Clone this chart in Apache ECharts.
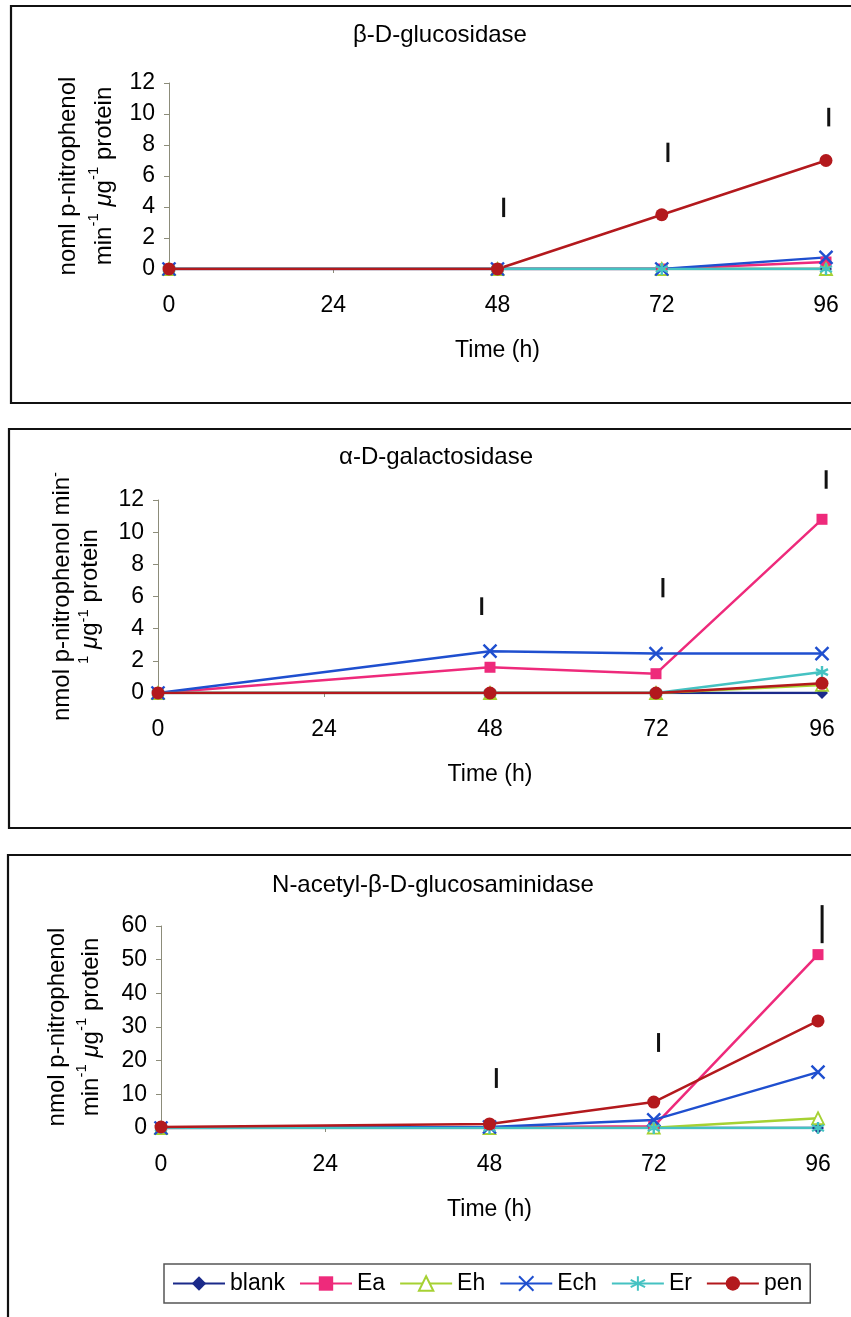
<!DOCTYPE html>
<html>
<head>
<meta charset="utf-8">
<title>Enzyme activity</title>
<script src="https://cdn.jsdelivr.net/npm/echarts@6/dist/echarts.min.js"></script>
<style>
  html, body { margin: 0; padding: 0; background: #fff; }
  #main { width: 851px; height: 1317px; }
</style>
</head>
<body>
<div id="main"></div>
<script>
// sampling times (h)
var hours = [0, 48, 72, 96];
var xTicks = [0, 24, 48, 72, 96];
var names = ["blank", "Ea", "Eh", "Ech", "Er", "pen"];

// beta-D-glucosidase
var glucBlank = [0, 0, 0, 0];
var glucEa = [0, 0, 0, 0.45];
var glucEh = [0, 0, 0, 0];
var glucEch = [0, 0, 0, 0.75];
var glucEr = [0, 0, 0, 0];
var glucPen = [0, 0, 3.5, 7.0];
var glucBarX = [48.9, 72.9, 96.4];
var glucBarLow = [3.35, 6.9, 9.2];
var glucBarHigh = [4.6, 8.15, 10.4];

// alpha-D-galactosidase
var galBlank = [0, 0, 0, 0];
var galEa = [0, 1.6, 1.2, 10.8];
var galEh = [0, 0, 0, 0.5];
var galEch = [0, 2.6, 2.45, 2.45];
var galEr = [0, 0, 0, 1.3];
var galPen = [0, 0, 0, 0.6];
var galBarX = [46.8, 73.0, 96.6];
var galBarLow = [4.85, 5.95, 12.7];
var galBarHigh = [5.95, 7.15, 13.85];

// N-acetyl-beta-D-glucosaminidase
var nagBlank = [0, 0, 0, 0];
var nagEa = [0, 0.2, 0.5, 51.5];
var nagEh = [0, 0, 0.1, 2.9];
var nagEch = [0, 0.3, 2.4, 16.6];
var nagEr = [0, 0, 0, 0];
var nagPen = [0.3, 1.2, 7.7, 31.8];
var nagBarX = [49.0, 72.7, 96.6];
var nagBarLow = [11.9, 22.6, 54.9];
var nagBarHigh = [17.8, 28.2, 66.2];

var FONT = "'Liberation Sans', Arial, sans-serif";

// look of each treatment
var looks = {
  blank: { color: "#1b2a8a", symbol: "diamond", size: 12 },
  Ea: { color: "#ee2a7b", symbol: "rect", size: 11 },
  Eh: { color: "#a6d133", symbol: "triangle", size: 12, hollow: true },
  Ech: { color: "#1f4fcf", symbol: "path://M0,0L10,10M10,0L0,10", size: 13, stroke: true },
  Er: { color: "#45c2c2", symbol: "path://M5,0L5,10M0,2.5L10,7.5M0,7.5L10,2.5", size: 12, stroke: true },
  pen: { color: "#b3191d", symbol: "circle", size: 13 }
};

function pairs(ys) {
  return hours.map(function (h, i) { return [h, ys[i]]; });
}

function lineSeries(name, ys, idx) {
  var lk = looks[name];
  var itemStyle = { color: lk.color };
  if (lk.hollow) itemStyle = { color: "#fff", borderColor: lk.color, borderWidth: 1.8 };
  if (lk.stroke) itemStyle = { color: lk.color, borderColor: lk.color, borderWidth: 2.4 };
  return {
    name: name,
    type: "line",
    xAxisIndex: idx,
    yAxisIndex: idx,
    data: pairs(ys),
    symbol: lk.symbol,
    symbolSize: lk.size,
    showAllSymbol: true,
    lineStyle: { color: lk.color, width: 2.5 },
    itemStyle: itemStyle,
    emphasis: { disabled: true },
    animation: false
  };
}

// the little vertical bars above each time point
function barSeries(xs, lo, hi, idx) {
  return {
    name: "lsd",
    type: "custom",
    xAxisIndex: idx,
    yAxisIndex: idx,
    clip: false,
    animation: false,
    encode: { x: 0, y: [1, 2] },
    data: xs.map(function (x, i) { return [x, lo[i], hi[i]]; }),
    renderItem: function (params, api) {
      var a = api.coord([api.value(0), api.value(1)]);
      var b = api.coord([api.value(0), api.value(2)]);
      return {
        type: "line",
        shape: { x1: a[0], y1: a[1], x2: b[0], y2: b[1] },
        style: { stroke: "#111", lineWidth: 3 }
      };
    }
  };
}

var grids = [
  { left: 169, top: 83, width: 657, height: 186 },
  { left: 158, top: 500, width: 664, height: 193 },
  { left: 161, top: 926, width: 657, height: 202 }
];

var yMax = [12, 12, 60];
var yStep = [2, 2, 10];
var yGap = [47, 54, 53];
var yLineH = [36, 28, 34];
var yNames = [
  "{t|noml p-nitrophenol}\n{t|min}{s|-1}{t| }{m|\u03bc}{t|g}{s|-1}{t| protein}",
  "{t|nmol p-nitrophenol min}{s|-}\n{s|1}{t| }{m|\u03bc}{t|g}{s|-1}{t| protein}",
  "{t|nmol p-nitrophenol}\n{t|min}{s|-1}{t| }{m|\u03bc}{t|g}{s|-1}{t| protein}"
];

function richName(lh) {
  return {
    t: { fontSize: 24, fontFamily: FONT, color: "#000", lineHeight: lh },
    m: { fontSize: 24, fontFamily: FONT, color: "#000", lineHeight: lh, fontStyle: "italic" },
    s: { fontSize: 15, fontFamily: FONT, color: "#000", lineHeight: 15, verticalAlign: "top" }
  };
}

var xAxes = grids.map(function (g, i) {
  return {
    type: "value",
    gridIndex: i,
    min: xTicks[0],
    max: xTicks[xTicks.length - 1],
    interval: 24,
    splitLine: { show: false },
    axisLine: { show: true, onZero: false, lineStyle: { color: "#8c8c7a", width: 1 } },
    axisTick: { show: true, length: 4, lineStyle: { color: "#8c8c7a" } },
    axisLabel: { fontSize: 23, fontFamily: FONT, color: "#000", margin: 25 },
    name: "Time (h)",
    nameLocation: "middle",
    nameGap: 70,
    nameTextStyle: { fontSize: 23, fontFamily: FONT, color: "#000" }
  };
});

var yAxes = grids.map(function (g, i) {
  return {
    type: "value",
    gridIndex: i,
    min: 0,
    max: yMax[i],
    interval: yStep[i],
    splitLine: { show: false },
    axisLine: { show: true, lineStyle: { color: "#8c8c7a", width: 1 } },
    axisTick: { show: true, length: 5, lineStyle: { color: "#8c8c7a" } },
    axisLabel: { fontSize: 23, fontFamily: FONT, color: "#000", margin: 14 },
    name: yNames[i],
    nameLocation: "middle",
    nameRotate: 90,
    nameGap: yGap[i],
    nameTextStyle: { rich: richName(yLineH[i]) }
  };
});

var panels = [
  [glucBlank, glucEa, glucEh, glucEch, glucEr, glucPen],
  [galBlank, galEa, galEh, galEch, galEr, galPen],
  [nagBlank, nagEa, nagEh, nagEch, nagEr, nagPen]
];
var bars = [
  [glucBarX, glucBarLow, glucBarHigh],
  [galBarX, galBarLow, galBarHigh],
  [nagBarX, nagBarLow, nagBarHigh]
];

var series = [];
panels.forEach(function (p, idx) {
  names.forEach(function (n, k) {
    series.push(lineSeries(n, p[k], idx));
  });
  series.push(barSeries(bars[idx][0], bars[idx][1], bars[idx][2], idx));
});

function frame(x, y, w, h) {
  return {
    type: "rect",
    shape: { x: x, y: y, width: w, height: h },
    style: { fill: "none", stroke: "#111", lineWidth: 2.2 },
    silent: true
  };
}
function heading(txt, x, y) {
  return {
    type: "text",
    x: x,
    y: y,
    style: {
      text: txt,
      fontSize: 24,
      fontFamily: FONT,
      fill: "#000",
      align: "center",
      verticalAlign: "middle",
      textAlign: "center",
      textVerticalAlign: "middle"
    },
    silent: true
  };
}

var chart = echarts.init(document.getElementById("main"), null, { renderer: "canvas" });
chart.setOption({
  backgroundColor: "#fff",
  animation: false,
  grid: grids.map(function (g) {
    return Object.assign({ outerBoundsMode: "none" }, g);
  }),
  xAxis: xAxes,
  yAxis: yAxes,
  legend: {
    data: names,
    left: 164,
    top: 1264,
    orient: "horizontal",
    itemWidth: 52,
    itemHeight: 18,
    itemGap: 14,
    padding: [8, 8, 8, 8],
    borderColor: "#555",
    borderWidth: 1.5,
    textStyle: { fontSize: 23, fontFamily: FONT, color: "#000" },
    selectedMode: false
  },
  graphic: [
    frame(11, 6, 900, 397),
    frame(9, 429, 900, 399),
    frame(8, 855, 900, 520),
    heading("\u03b2-D-glucosidase", 440, 35),
    heading("\u03b1-D-galactosidase", 436, 457),
    heading("N-acetyl-\u03b2-D-glucosaminidase", 433, 885)
  ],
  series: series
});
</script>
</body>
</html>
